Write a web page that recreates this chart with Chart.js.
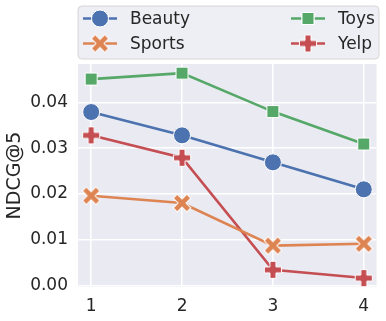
<!DOCTYPE html>
<html>
<head>
<meta charset="utf-8">
<script src="https://cdn.jsdelivr.net/npm/chart.js@4"></script>
<style>
  html, body { margin: 0; padding: 0; background: #fff; }
  #wrap { width: 386px; height: 321px; }
</style>
</head>
<body>
<div id="wrap"><canvas id="canvas" width="386" height="321"></canvas></div>
<script>
const xs = [1, 2, 3, 4];
const yTicks = [0, 0.01, 0.02, 0.03, 0.04];

const beauty = [0.0379, 0.0328, 0.0269, 0.0210];
const sports = [0.0196, 0.0180, 0.0087, 0.0091];
const toys   = [0.0451, 0.0464, 0.0380, 0.0309];
const yelp   = [0.0328, 0.0279, 0.0034, 0.0016];

const BLUE = '#4C72B0', ORANGE = '#DD8452', GREEN = '#55A868', RED = '#C44E52';
const FONT = "'DejaVu Sans', sans-serif";
const INK = '#262626';

// thick filled plus / X markers with white edge, like matplotlib 'P' and 'X'
function crossMarker(color, rot) {
  const c = document.createElement('canvas');
  c.width = 22; c.height = 22;
  const g = c.getContext('2d');
  g.translate(11, 11);
  g.rotate(rot);
  const a = rot ? 9.6 : 8.6, t = rot ? 2.8 : 3.0;
  g.beginPath();
  g.moveTo(-t, -a); g.lineTo(t, -a); g.lineTo(t, -t); g.lineTo(a, -t);
  g.lineTo(a, t); g.lineTo(t, t); g.lineTo(t, a); g.lineTo(-t, a);
  g.lineTo(-t, t); g.lineTo(-a, t); g.lineTo(-a, -t); g.lineTo(-t, -t);
  g.closePath();
  g.fillStyle = color;
  g.fill();
  g.lineWidth = 1;
  g.strokeStyle = '#fff';
  g.stroke();
  return c;
}

const xMark = crossMarker(ORANGE, Math.PI / 4);
const pMark = crossMarker(RED, 0);

function series(label, vals, color, style) {
  return {
    label: label,
    data: xs.map((x, i) => ({x: x, y: vals[i]})),
    borderColor: color,
    backgroundColor: color,
    borderWidth: 2.6,
    pointStyle: style,
    pointRadius: 8.5,
    pointBorderColor: '#fff',
    pointBorderWidth: 1,
    pointBackgroundColor: color,
    tension: 0
  };
}

const datasets = [
  series('Beauty', beauty, BLUE, 'circle'),
  series('Sports', sports, ORANGE, xMark),
  series('Toys', toys, GREEN, 'rect'),
  series('Yelp', yelp, RED, pMark)
];

const bgPlugin = {
  id: 'bg',
  beforeDraw(chart) {
    const a = chart.chartArea, ctx = chart.ctx;
    ctx.save();
    ctx.fillStyle = '#EAEAF2';
    ctx.fillRect(a.left, a.top, a.right - a.left, a.bottom - a.top);
    ctx.restore();
  }
};

function drawMarker(ctx, ds, x, y) {
  if (typeof ds.pointStyle === 'string') {
    Chart.helpers.drawPoint(ctx, {pointStyle: ds.pointStyle, radius: 8.5, borderWidth: 1}, x, y);
    ctx.fill();
    ctx.stroke();
  } else {
    ctx.drawImage(ds.pointStyle, x - 11, y - 11);
  }
}

const legendPlugin = {
  id: 'legend2',
  afterDraw(chart) {
    const ctx = chart.ctx;
    ctx.save();
    // frame
    const L = 78, T = 6, R = 379, B = 59, r = 4;
    ctx.beginPath();
    ctx.moveTo(L + r, T); ctx.lineTo(R - r, T); ctx.quadraticCurveTo(R, T, R, T + r);
    ctx.lineTo(R, B - r); ctx.quadraticCurveTo(R, B, R - r, B);
    ctx.lineTo(L + r, B); ctx.quadraticCurveTo(L, B, L, B - r);
    ctx.lineTo(L, T + r); ctx.quadraticCurveTo(L, T, L + r, T);
    ctx.closePath();
    ctx.fillStyle = '#EEEEF5';
    ctx.fill();
    ctx.lineWidth = 1;
    ctx.strokeStyle = '#D6D6D6';
    ctx.stroke();

    const pos = [[100, 18.5], [100, 43.5], [308, 18.5], [308, 43.5]];
    datasets.forEach((ds, i) => {
      const [cx, cy] = pos[i];
      ctx.strokeStyle = ds.borderColor;
      ctx.lineWidth = 2.6;
      ctx.beginPath();
      ctx.moveTo(cx - 17, cy); ctx.lineTo(cx + 17, cy);
      ctx.stroke();
      ctx.fillStyle = ds.backgroundColor;
      ctx.strokeStyle = '#fff';
      ctx.lineWidth = 1;
      drawMarker(ctx, ds, cx, cy);
      ctx.fillStyle = INK;
      ctx.font = '17px ' + FONT;
      ctx.textBaseline = 'middle';
      ctx.textAlign = 'left';
      ctx.fillText(ds.label, cx + 30, cy + 1);
    });
    ctx.restore();
  }
};

new Chart(document.getElementById('canvas'), {
  type: 'line',
  data: {datasets: datasets},
  options: {
    responsive: false,
    animation: false,
    layout: {padding: {top: 64, right: 7, left: 0, bottom: 0}},
    plugins: {legend: {display: false}, tooltip: {enabled: false}},
    scales: {
      x: {
        type: 'linear',
        min: 0.855, max: 4.14,
        afterBuildTicks: s => { s.ticks = xs.map(v => ({value: v})); },
        afterFit: s => { s.height = 34; },
        grid: {color: '#fff', lineWidth: 1.5, drawTicks: false},
        border: {display: false},
        ticks: {color: INK, font: {family: FONT, size: 17}, padding: 9,
                callback: v => String(v)}
      },
      y: {
        min: -0.00035, max: 0.0484,
        afterBuildTicks: s => { s.ticks = yTicks.map(v => ({value: v})); },
        afterFit: s => { s.width = 78; },
        grid: {color: '#fff', lineWidth: 1.5, drawTicks: false},
        border: {display: false},
        ticks: {color: INK, font: {family: FONT, size: 17}, padding: 10,
                callback: v => v.toFixed(2)},
        title: {display: true, text: 'NDCG@5', color: INK,
                font: {family: FONT, size: 19}, padding: {top: 4, bottom: 0}}
      }
    }
  },
  plugins: [bgPlugin, legendPlugin]
});
</script>
</body>
</html>
